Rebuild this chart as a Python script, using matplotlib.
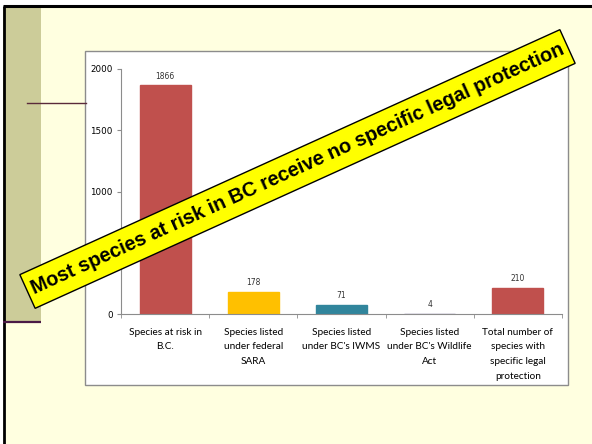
import matplotlib
matplotlib.use('Agg')
import matplotlib.pyplot as plt
from matplotlib.patches import Rectangle

# data
categories = ["Species at risk in\nB.C.",
              "Species listed\nunder federal\nSARA",
              "Species listed\nunder BC's IWMS",
              "Species listed\nunder BC's Wildlife\nAct",
              "Total number of\nspecies with\nspecific legal\nprotection"]
values = [1866, 178, 71, 4, 210]
bar_colors = ['#C0504D', '#FFC000', '#31859C', '#7A6F99', '#C0504D']
yticks = [0, 500, 1000, 1500, 2000]
banner_text = "Most species at risk in BC receive no specific legal protection"

W, H = 592, 444
fig = plt.figure(figsize=(W / 100, H / 100), dpi=100)
fig.patch.set_facecolor('white')

# background "slide" layer, drawn in pixel coordinates (y flipped)
bg = fig.add_axes([0, 0, 1, 1], zorder=0)
bg.set_xlim(0, W)
bg.set_ylim(0, H)
bg.axis('off')

def py(y):
    return H - y

bg.add_patch(Rectangle((3, 0), W - 3, py(7), facecolor='#FFFFE0', edgecolor='none'))
bg.add_patch(Rectangle((3, py(322)), 38, 322 - 7, facecolor='#CCCC99', edgecolor='none'))
bg.plot([3, W], [py(6.5), py(6.5)], color='black', lw=2.2, solid_capstyle='butt')
bg.plot([3.5, 3.5], [0, py(6.5)], color='black', lw=2.0, solid_capstyle='butt')
bg.plot([3, 41], [py(322), py(322)], color='#4A1A45', lw=1.6, solid_capstyle='butt')
bg.plot([27, 86], [py(103), py(103)], color='#5A2A3A', lw=1.0)
# white chart frame
bg.add_patch(Rectangle((85, py(385)), 568 - 85, 385 - 51, facecolor='white',
                       edgecolor='#8C8C8C', lw=1.0))

# the chart itself
ax = fig.add_axes([121 / W, (H - 314) / H, (562 - 121) / W, (314 - 69) / H], zorder=1)
ax.patch.set_alpha(0)
x = list(range(len(values)))
bars = ax.bar(x, values, width=0.58, color=bar_colors, edgecolor=bar_colors, linewidth=1.0)
for b, v in zip(bars, values):
    ax.text(b.get_x() + b.get_width() / 2, v + 40, str(v), ha='center', va='bottom',
            fontsize=5.5, color='#333333', family='DejaVu Sans')

ax.set_xlim(-0.5, len(values) - 0.5)
ax.set_ylim(0, 2000)
ax.set_yticks(yticks)
ax.set_yticklabels([str(t) for t in yticks], fontsize=6.3, family='DejaVu Sans')
ax.set_xticks(x)
ax.set_xticklabels(categories, fontsize=7.2, family='Lato', linespacing=1.8)
ax.set_xticks([i - 0.5 for i in range(len(values) + 1)], minor=True)
ax.tick_params(axis='x', which='major', length=0, pad=10)
ax.tick_params(axis='x', which='minor', length=3, color='#8C8C8C', direction='out')
ax.tick_params(axis='y', length=3, color='#8C8C8C', direction='out', pad=3)
for s in ['top', 'right']:
    ax.spines[s].set_visible(False)
ax.spines['left'].set_color('#8C8C8C')
ax.spines['bottom'].set_color('#8C8C8C')

# rotated yellow banner on top
ov = fig.add_axes([0, 0, 1, 1], zorder=2)
ov.set_xlim(0, W)
ov.set_ylim(0, H)
ov.axis('off')
ov.patch.set_alpha(0)
cx, cy = 297.5, py(169)
bw, bh, ang = 593, 37, 24.4
ov.add_patch(Rectangle((cx - bw / 2, cy - bh / 2), bw, bh, angle=ang,
                       rotation_point='center', facecolor='#FFFF00',
                       edgecolor='black', lw=1.0))
ov.text(cx, cy, banner_text, rotation=ang, rotation_mode='anchor', ha='center',
        va='center', fontsize=14.3, fontweight='bold', family='Liberation Sans')

fig.savefig('out.png', dpi=100)
